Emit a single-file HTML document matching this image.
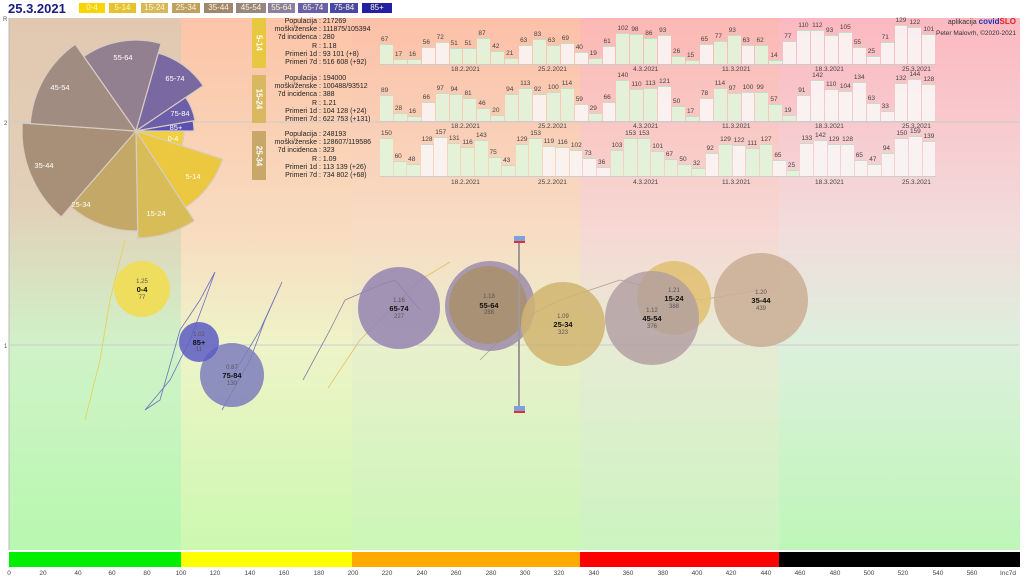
<!DOCTYPE html>
<html><head><meta charset="utf-8">
<style>
*{margin:0;padding:0;box-sizing:border-box}
body{width:1024px;height:578px;overflow:hidden;background:#fff;font-family:"Liberation Sans",sans-serif;position:relative}
.z{position:absolute;top:18px;height:532px}
.row{position:absolute;left:380px;width:556px;display:flex;align-items:flex-end;border-bottom:1px solid #ccc}
.row div{flex:1;margin-right:1px;background:rgba(225,245,220,.9);position:relative;border-top:1px solid #c8dcc4}
.row div.w{background:rgba(250,245,245,.9)}
.row i{position:absolute;top:-9px;left:1px;font-style:normal;font-size:6.5px;color:#444}
.dt{position:absolute;font-size:6.5px;color:#444}
.info{position:absolute;left:255px;font-size:7px;line-height:8.2px;color:#222}
.info span{display:inline-block;width:62px;text-align:right}
.tag{position:absolute;left:252px;width:14px;color:#fff;font-size:8px;font-weight:bold}
.tag b{position:absolute;left:50%;top:50%;transform:translate(-50%,-50%) rotate(90deg);white-space:nowrap}
.lg{position:absolute;top:3px;height:10px;font-size:8px;line-height:10px;text-align:center;color:#fff8d0}
</style></head><body>
<div class="z" style="left:9px;width:172px;background:linear-gradient(#e2c8b0 0%,#e2d0b8 35%,#d0f2c8 62%,#b8f8b0 100%)"></div>
<div class="z" style="left:181px;width:171px;background:linear-gradient(#fcc4a8 0%,#f8dcc0 40%,#eef4c8 62%,#ccf8b0 100%)"></div>
<div class="z" style="left:352px;width:228px;background:linear-gradient(#fcc0a8 0%,#f8dcc4 40%,#e8f0cc 62%,#ccf6b8 100%)"></div>
<div class="z" style="left:580px;width:199px;background:linear-gradient(#fcb8b4 0%,#f6d8d4 40%,#e6ecd4 62%,#ccf4c0 100%)"></div>
<div class="z" style="left:779px;width:241px;background:linear-gradient(#fcb8c0 0%,#f2dcdc 40%,#dcf0dc 62%,#bef6b8 100%)"></div>

<div style="position:absolute;left:8px;top:1px;font-size:13px;font-weight:bold;color:#1a1a80">25.3.2021</div>
<div class="lg" style="left:79px;width:26px;background:#f8d400">0-4</div>
<div class="lg" style="left:109px;width:27px;background:#e6c22e">5-14</div>
<div class="lg" style="left:141px;width:27px;background:#d8b85a">15-24</div>
<div class="lg" style="left:172px;width:28px;background:#c0a060">25-34</div>
<div class="lg" style="left:204px;width:29px;background:#a08870">35-44</div>
<div class="lg" style="left:236px;width:30px;background:#968880">45-54</div>
<div class="lg" style="left:268px;width:27px;background:#8c80a0">55-64</div>
<div class="lg" style="left:298px;width:30px;background:#6860a8">65-74</div>
<div class="lg" style="left:330px;width:28px;background:#4848a8">75-84</div>
<div class="lg" style="left:362px;width:30px;background:#2020a0">85+</div>

<svg style="position:absolute;left:0;top:0" width="1024" height="578">
<line x1="9" y1="18" x2="9" y2="550" stroke="#bbb"/>
<line x1="9" y1="122" x2="1019" y2="122" stroke="#ccc"/>
<line x1="9" y1="345" x2="1019" y2="345" stroke="#ccc"/>
<text x="3" y="21" font-size="6" fill="#555">R</text>
<text x="4" y="125" font-size="6" fill="#555">2</text>
<text x="4" y="348" font-size="6" fill="#555">1</text>
<g stroke="#d8ccc0" stroke-width="1.2">
<path d="M136,131 L184,131 A48,48 0 0 1 181.7,145.8Z" fill="#f0d040"/>
<path d="M136,131 L222.5,159.1 A91,91 0 0 1 185.6,207.3Z" fill="#ecc840"/>
<path d="M136,131 L194.3,220.7 A107,107 0 0 1 137.9,238Z" fill="#d8bc58"/>
<path d="M136,131 L137.7,231 A100,100 0 0 1 70.4,206.5Z" fill="#c4a868"/>
<path d="M136,131 L61.2,217 A114,114 0 0 1 22.3,123Z" fill="#a89078"/>
<path d="M136,131 L30.3,123.6 A106,106 0 0 1 75.2,44.2Z" fill="#a08c80"/>
<path d="M136,131 L83.8,56.5 A91,91 0 0 1 161.1,43.5Z" fill="#928090"/>
<path d="M136,131 L158.3,53.1 A81,81 0 0 1 203.1,85.7Z" fill="#7a68a0"/>
<path d="M136,131 L185.7,97.4 A60,60 0 0 1 195.1,120.6Z" fill="#6c5ea8"/>
<path d="M136,131 L193.1,120.9 A58,58 0 0 1 194,131Z" fill="#5a50b0"/>
</g>
<g font-size="7.5" fill="#fff" text-anchor="middle">
<text x="123" y="60">55-64</text><text x="60" y="90">45-54</text><text x="175" y="81">65-74</text>
<text x="180" y="116">75-84</text><text x="176" y="130">85+</text><text x="173" y="141">0-4</text>
<text x="193" y="179">5-14</text><text x="156" y="216">15-24</text><text x="81" y="207">25-34</text><text x="44" y="168">35-44</text>
</g>
<g fill="none" stroke-width=".8">
<polyline points="85,420 100,360 110,300 120,260 125,240" stroke="#e8d050"/>
<polyline points="145,410 170,380 190,340 205,300 215,272 200,300 180,330 160,400 145,410" stroke="#7070c0"/>
<polyline points="222,410 250,360 265,320 282,282 260,330 230,380" stroke="#7070c0"/>
<polyline points="303,380 330,330 345,300 380,285 395,280 420,310" stroke="#8a78a8"/>
<polyline points="328,388 360,340 420,280 450,262" stroke="#e0c060"/>
<polyline points="480,360 520,320 560,300 620,280 700,300 760,290" stroke="#b0a090"/>
</g>
<circle cx="142" cy="289" r="28" fill="#f0dc58" opacity=".95"/>
<circle cx="232" cy="375" r="32" fill="#7c7cbc" opacity=".85"/>
<circle cx="199" cy="342" r="20" fill="#5c5cc4" opacity=".85"/>
<circle cx="399" cy="308" r="41" fill="#9484b0" opacity=".85"/>
<circle cx="490" cy="306" r="45" fill="#9c8cac" opacity=".85"/>
<circle cx="488" cy="305" r="39" fill="#a89070" opacity=".9"/>
<circle cx="563" cy="324" r="42" fill="#d0b470" opacity=".85"/>
<circle cx="674" cy="298" r="37" fill="#e0c070" opacity=".85"/>
<circle cx="652" cy="318" r="47" fill="#b09ca0" opacity=".8"/>
<circle cx="761" cy="300" r="47" fill="#ccb098" opacity=".9"/>
<line x1="519" y1="240" x2="519" y2="410" stroke="#a09898" stroke-width="2"/>
<rect x="514" y="236" width="11" height="7" fill="#7fa0e0"/><rect x="514" y="241" width="11" height="2" fill="#e03030"/>
<rect x="514" y="406" width="11" height="7" fill="#7fa0e0"/><rect x="514" y="411" width="11" height="2" fill="#e03030"/>
<g text-anchor="middle" font-size="6" fill="#555">
<text x="142" y="283">1.25</text><text x="142" y="299">77</text>
<text x="199" y="336">1.02</text><text x="199" y="351">11</text>
<text x="232" y="369">0.87</text><text x="232" y="385">130</text>
<text x="399" y="302">1.16</text><text x="399" y="318">227</text>
<text x="489" y="298">1.18</text><text x="489" y="314">288</text>
<text x="563" y="318">1.09</text><text x="563" y="334">323</text>
<text x="674" y="292">1.21</text><text x="674" y="308">388</text>
<text x="652" y="312">1.12</text><text x="652" y="328">376</text>
<text x="761" y="294">1.20</text><text x="761" y="310">439</text>
</g>
<g text-anchor="middle" font-size="7.5" font-weight="bold" fill="#111">
<text x="142" y="292">0-4</text><text x="199" y="345">85+</text><text x="232" y="378">75-84</text>
<text x="399" y="311">65-74</text><text x="489" y="308">55-64</text><text x="563" y="327">25-34</text>
<text x="674" y="301">15-24</text><text x="652" y="321">45-54</text><text x="761" y="303">35-44</text>
</g>
<rect x="9" y="552" width="172" height="15" fill="#00ee00"/>
<rect x="181" y="552" width="171" height="15" fill="#ffff00"/>
<rect x="352" y="552" width="228" height="15" fill="#ffaa00"/>
<rect x="580" y="552" width="199" height="15" fill="#ff0000"/>
<rect x="779" y="552" width="241" height="15" fill="#000"/>
<g font-size="6.5" fill="#444" text-anchor="middle">
<text x="9" y="575">0</text><text x="43" y="575">20</text><text x="78" y="575">40</text><text x="112" y="575">60</text><text x="147" y="575">80</text><text x="181" y="575">100</text><text x="215" y="575">120</text><text x="250" y="575">140</text><text x="284" y="575">160</text><text x="319" y="575">180</text><text x="353" y="575">200</text><text x="387" y="575">220</text><text x="422" y="575">240</text><text x="456" y="575">260</text><text x="491" y="575">280</text><text x="525" y="575">300</text><text x="559" y="575">320</text><text x="594" y="575">340</text><text x="628" y="575">360</text><text x="663" y="575">380</text><text x="697" y="575">400</text><text x="731" y="575">420</text><text x="766" y="575">440</text><text x="800" y="575">460</text><text x="835" y="575">480</text><text x="869" y="575">500</text><text x="903" y="575">520</text><text x="938" y="575">540</text><text x="972" y="575">560</text><text x="1008" y="575">Inc7d</text>
</g>
<text x="1016" y="24" font-size="7" fill="#333" text-anchor="end">aplikacija <tspan fill="#2030c0" font-weight="bold" font-size="8">covid</tspan><tspan fill="#e02020" font-weight="bold" font-size="8">SLO</tspan></text>
<text x="1016" y="35" font-size="6.5" fill="#333" text-anchor="end">Peter Malovrh, ©2020-2021</text>
</svg>

<div class="tag" style="top:18px;height:50px;background:#e8c840"><b>5-14</b></div>
<div class="tag" style="top:75px;height:48px;background:#d8b860"><b>15-24</b></div>
<div class="tag" style="top:131px;height:49px;background:#c8a868"><b>25-34</b></div>

<div class="info" style="top:18px"><span>Populacija</span> : 217269<br><span>moški/ženske</span> : 111875/105394<br><span>7d incidenca</span> : 280<br><span>R</span> : 1.18<br><span>Primeri 1d</span> : 93 101 (+8)<br><span>Primeri 7d</span> : 516 608 (+92)</div>
<div class="info" style="top:75px"><span>Populacija</span> : 194000<br><span>moški/ženske</span> : 100488/93512<br><span>7d incidenca</span> : 388<br><span>R</span> : 1.21<br><span>Primeri 1d</span> : 104 128 (+24)<br><span>Primeri 7d</span> : 622 753 (+131)</div>
<div class="info" style="top:131px"><span>Populacija</span> : 248193<br><span>moški/ženske</span> : 128607/119586<br><span>7d incidenca</span> : 323<br><span>R</span> : 1.09<br><span>Primeri 1d</span> : 113 139 (+26)<br><span>Primeri 7d</span> : 734 802 (+68)</div>

<div class="row" style="top:18px;height:47px">
<div style="height:20px"><i>67</i></div><div style="height:5px"><i>17</i></div><div style="height:5px"><i>16</i></div><div class="w" style="height:17px"><i>56</i></div><div class="w" style="height:22px"><i>72</i></div><div style="height:16px"><i>51</i></div><div style="height:16px"><i>51</i></div><div style="height:26px"><i>87</i></div><div style="height:13px"><i>42</i></div><div style="height:6px"><i>21</i></div><div class="w" style="height:19px"><i>63</i></div><div style="height:25px"><i>83</i></div><div style="height:19px"><i>63</i></div><div class="w" style="height:21px"><i>69</i></div><div class="w" style="height:12px"><i>40</i></div><div style="height:6px"><i>19</i></div><div class="w" style="height:18px"><i>61</i></div><div style="height:31px"><i>102</i></div><div style="height:30px"><i>98</i></div><div style="height:26px"><i>86</i></div><div class="w" style="height:29px"><i>93</i></div><div style="height:8px"><i>26</i></div><div style="height:4px"><i>15</i></div><div class="w" style="height:20px"><i>65</i></div><div style="height:23px"><i>77</i></div><div style="height:29px"><i>93</i></div><div class="w" style="height:19px"><i>63</i></div><div style="height:19px"><i>62</i></div><div style="height:4px"><i>14</i></div><div class="w" style="height:23px"><i>77</i></div><div class="w" style="height:34px"><i>110</i></div><div class="w" style="height:34px"><i>112</i></div><div class="w" style="height:29px"><i>93</i></div><div class="w" style="height:32px"><i>105</i></div><div class="w" style="height:17px"><i>55</i></div><div class="w" style="height:8px"><i>25</i></div><div class="w" style="height:22px"><i>71</i></div><div class="w" style="height:39px"><i>129</i></div><div class="w" style="height:37px"><i>122</i></div><div class="w" style="height:30px"><i>101</i></div>
</div>
<div class="row" style="top:75px;height:47px">
<div style="height:26px"><i>89</i></div><div style="height:8px"><i>28</i></div><div style="height:5px"><i>16</i></div><div class="w" style="height:19px"><i>66</i></div><div style="height:28px"><i>97</i></div><div style="height:27px"><i>94</i></div><div style="height:23px"><i>81</i></div><div style="height:13px"><i>46</i></div><div style="height:6px"><i>20</i></div><div style="height:27px"><i>94</i></div><div style="height:33px"><i>113</i></div><div class="w" style="height:27px"><i>92</i></div><div style="height:29px"><i>100</i></div><div style="height:33px"><i>114</i></div><div class="w" style="height:17px"><i>59</i></div><div style="height:8px"><i>29</i></div><div class="w" style="height:19px"><i>66</i></div><div style="height:41px"><i>140</i></div><div style="height:32px"><i>110</i></div><div style="height:33px"><i>113</i></div><div class="w" style="height:35px"><i>121</i></div><div style="height:15px"><i>50</i></div><div style="height:5px"><i>17</i></div><div class="w" style="height:23px"><i>78</i></div><div style="height:33px"><i>114</i></div><div style="height:28px"><i>97</i></div><div class="w" style="height:29px"><i>100</i></div><div style="height:29px"><i>99</i></div><div style="height:17px"><i>57</i></div><div style="height:6px"><i>19</i></div><div class="w" style="height:26px"><i>91</i></div><div class="w" style="height:41px"><i>142</i></div><div class="w" style="height:32px"><i>110</i></div><div class="w" style="height:30px"><i>104</i></div><div class="w" style="height:39px"><i>134</i></div><div class="w" style="height:18px"><i>63</i></div><div class="w" style="height:10px"><i>33</i></div><div class="w" style="height:38px"><i>132</i></div><div class="w" style="height:42px"><i>144</i></div><div class="w" style="height:37px"><i>128</i></div>
</div>
<div class="row" style="top:131px;height:46px">
<div style="height:38px"><i>150</i></div><div style="height:15px"><i>60</i></div><div style="height:12px"><i>48</i></div><div class="w" style="height:32px"><i>128</i></div><div class="w" style="height:39px"><i>157</i></div><div style="height:33px"><i>131</i></div><div style="height:29px"><i>116</i></div><div style="height:36px"><i>143</i></div><div style="height:19px"><i>75</i></div><div style="height:11px"><i>43</i></div><div style="height:32px"><i>129</i></div><div style="height:38px"><i>153</i></div><div class="w" style="height:30px"><i>119</i></div><div class="w" style="height:29px"><i>116</i></div><div class="w" style="height:26px"><i>102</i></div><div class="w" style="height:18px"><i>73</i></div><div class="w" style="height:9px"><i>36</i></div><div style="height:26px"><i>103</i></div><div style="height:38px"><i>153</i></div><div style="height:38px"><i>153</i></div><div style="height:25px"><i>101</i></div><div style="height:17px"><i>67</i></div><div style="height:12px"><i>50</i></div><div style="height:8px"><i>32</i></div><div class="w" style="height:23px"><i>92</i></div><div style="height:32px"><i>129</i></div><div class="w" style="height:31px"><i>122</i></div><div style="height:28px"><i>111</i></div><div style="height:32px"><i>127</i></div><div class="w" style="height:16px"><i>65</i></div><div style="height:6px"><i>25</i></div><div class="w" style="height:33px"><i>133</i></div><div class="w" style="height:36px"><i>142</i></div><div class="w" style="height:32px"><i>129</i></div><div class="w" style="height:32px"><i>128</i></div><div class="w" style="height:16px"><i>65</i></div><div class="w" style="height:12px"><i>47</i></div><div class="w" style="height:23px"><i>94</i></div><div class="w" style="height:38px"><i>150</i></div><div class="w" style="height:40px"><i>159</i></div><div class="w" style="height:35px"><i>139</i></div>
</div>

<div class="dt" style="left:451px;top:66px">18.2.2021</div><div class="dt" style="left:538px;top:66px">25.2.2021</div><div class="dt" style="left:633px;top:66px">4.3.2021</div><div class="dt" style="left:722px;top:66px">11.3.2021</div><div class="dt" style="left:815px;top:66px">18.3.2021</div><div class="dt" style="left:902px;top:66px">25.3.2021</div>
<div class="dt" style="left:451px;top:123px">18.2.2021</div><div class="dt" style="left:538px;top:123px">25.2.2021</div><div class="dt" style="left:633px;top:123px">4.3.2021</div><div class="dt" style="left:722px;top:123px">11.3.2021</div><div class="dt" style="left:815px;top:123px">18.3.2021</div><div class="dt" style="left:902px;top:123px">25.3.2021</div>
<div class="dt" style="left:451px;top:179px">18.2.2021</div><div class="dt" style="left:538px;top:179px">25.2.2021</div><div class="dt" style="left:633px;top:179px">4.3.2021</div><div class="dt" style="left:722px;top:179px">11.3.2021</div><div class="dt" style="left:815px;top:179px">18.3.2021</div><div class="dt" style="left:902px;top:179px">25.3.2021</div>
</body></html>
